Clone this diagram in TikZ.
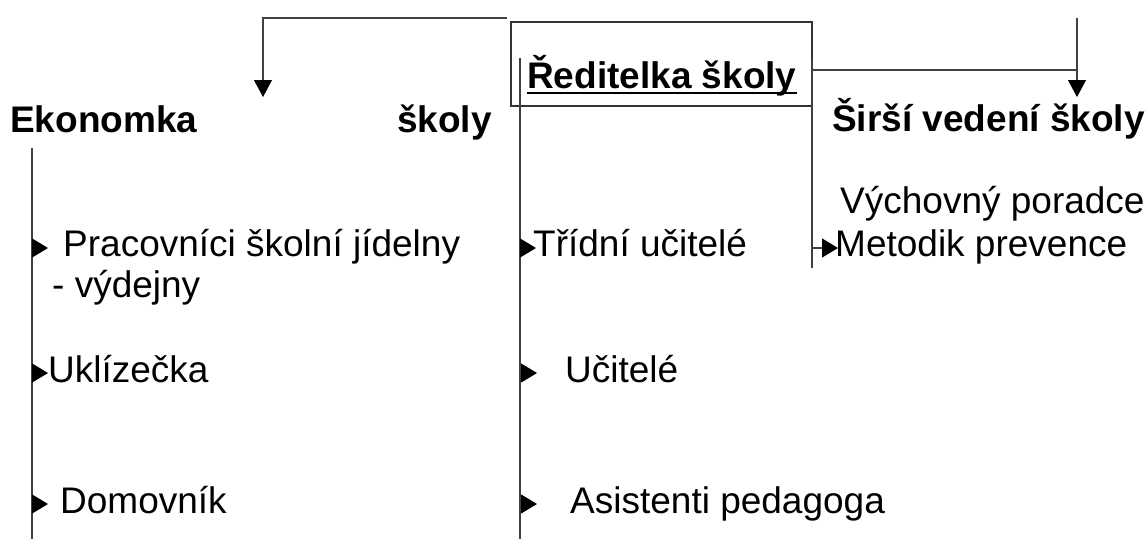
\documentclass[tikz,border=0pt]{standalone}
\usepackage{fontspec}
\setmainfont{Liberation Sans}
\usetikzlibrary{arrows.meta,calc}
\begin{document}
\begin{tikzpicture}[x=1pt,y=-1pt,
  lbl/.style={anchor=base west,inner sep=0pt,font=\fontsize{37pt}{42pt}\selectfont},
  head/.style={lbl,font=\fontsize{37pt}{42pt}\selectfont\bfseries},
  ln/.style={draw=black!75,line width=1.1pt},
  arr/.style={ln,-{Triangle[length=17pt,width=18pt,color=black,fill=black]}},
  sarr/.style={ln,-{Triangle[length=16pt,width=19pt,color=black,fill=black]}}]
\useasboundingbox (0,0) rectangle (1148,539);
% director box
\node[draw=black!80,line width=1.1pt,minimum width=301pt,minimum height=84pt,inner sep=0pt] (box) at (661.5,64) {};
\node[head] (dir) at (527,88) {Ředitelka školy};
\draw[line width=2pt] ($(dir.base west)+(0,5)$) -- ($(dir.base east)+(0,5)$);
% headings
\node[head] (eko) at (10,132) {Ekonomka};
\node[head] (eko2) at (397,132) {školy};
\node[head] (sir) at (832,131) {Širší vedení školy};
% items
\node[lbl] (vych) at (840,213) {Výchovný poradce};
\node[lbl] (met) at (835,256) {Metodik prevence};
\node[lbl] (prac) at (63,256) {Pracovníci školní jídelny};
\node[lbl] (vyd) at (52,297) {- výdejny};
\node[lbl] (ukl) at (48,382) {Uklízečka};
\node[lbl] (dom) at (60,513) {Domovník};
\node[lbl] (tri) at (533,256) {Třídní učitelé};
\node[lbl] (uc) at (565,382) {Učitelé};
\node[lbl] (asi) at (570,513) {Asistenti pedagoga};
% coordinates
\coordinate (tlA) at (507,18);
\coordinate (tlB) at (263,97);
\coordinate (trA) at (1077,18);
\coordinate (trB) at (1077,97);
\coordinate (trC) at (812,70);
\coordinate (trD) at (1077,70);
\coordinate (L1) at (32,148);
\coordinate (L2) at (32,539);
\coordinate (M1) at (520,58);
\coordinate (M2) at (520,539);
\coordinate (R1) at (812,58);
\coordinate (R2) at (812,268);
% connectors
\draw[arr] (tlA) -| (tlB);
\draw[arr] (trA) -- (trB);
\draw[ln] (trC) -- (trD);
\draw[ln] (L1) -- (L2);
\draw[ln] (M1) -- (M2);
\draw[ln] (R1) -- (R2);
% small arrows
\coordinate (la1) at (32,248); \coordinate (lt1) at (48,248);
\coordinate (la2) at (32,373); \coordinate (lt2) at (48,373);
\coordinate (la3) at (32,504); \coordinate (lt3) at (48,504);
\coordinate (ma1) at (520,248); \coordinate (mt1) at (536,248);
\coordinate (ma2) at (520,373); \coordinate (mt2) at (537,373);
\coordinate (ma3) at (520,504); \coordinate (mt3) at (537,504);
\coordinate (ra1) at (812,248); \coordinate (rt1) at (838,248);
\draw[sarr] (la1) -- (lt1);
\draw[sarr] (la2) -- (lt2);
\draw[sarr] (la3) -- (lt3);
\draw[sarr] (ma1) -- (mt1);
\draw[sarr] (ma2) -- (mt2);
\draw[sarr] (ma3) -- (mt3);
\draw[sarr] (ra1) -- (rt1);
\end{tikzpicture}
\end{document}
